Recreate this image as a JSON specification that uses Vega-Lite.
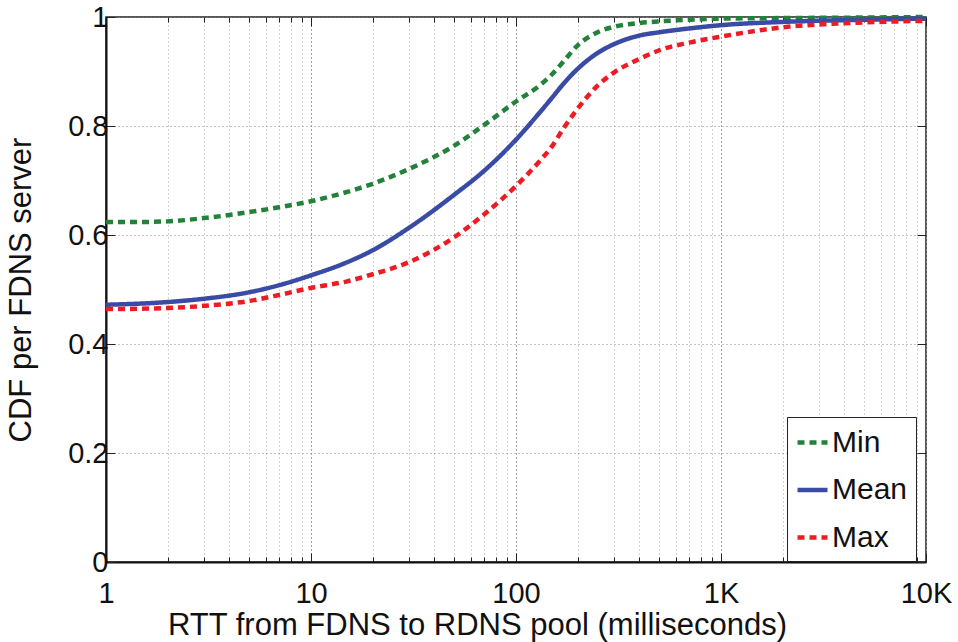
{
  "$schema": "https://vega.github.io/schema/vega-lite/v6.json",
  "width": 820,
  "height": 545,
  "autosize": {"type": "none"},
  "padding": {"left": 106, "top": 17, "right": 32, "bottom": 80},
  "background": "white",
  "config": {
    "font": "Liberation Sans",
    "view": {"stroke": "#222", "strokeWidth": 1.5}
  },
  "data": {
    "values": [
      {"series": "Min", "rtt": 1, "cdf": 0.624},
      {"series": "Min", "rtt": 1.5, "cdf": 0.624},
      {"series": "Min", "rtt": 2, "cdf": 0.625},
      {"series": "Min", "rtt": 3, "cdf": 0.631},
      {"series": "Min", "rtt": 5, "cdf": 0.642},
      {"series": "Min", "rtt": 7, "cdf": 0.651},
      {"series": "Min", "rtt": 10, "cdf": 0.662},
      {"series": "Min", "rtt": 15, "cdf": 0.679},
      {"series": "Min", "rtt": 20, "cdf": 0.694},
      {"series": "Min", "rtt": 30, "cdf": 0.721},
      {"series": "Min", "rtt": 50, "cdf": 0.764},
      {"series": "Min", "rtt": 70, "cdf": 0.802},
      {"series": "Min", "rtt": 100, "cdf": 0.845},
      {"series": "Min", "rtt": 130, "cdf": 0.874},
      {"series": "Min", "rtt": 150, "cdf": 0.895},
      {"series": "Min", "rtt": 170, "cdf": 0.918},
      {"series": "Min", "rtt": 200, "cdf": 0.948},
      {"series": "Min", "rtt": 250, "cdf": 0.972},
      {"series": "Min", "rtt": 300, "cdf": 0.982},
      {"series": "Min", "rtt": 400, "cdf": 0.989},
      {"series": "Min", "rtt": 500, "cdf": 0.992},
      {"series": "Min", "rtt": 700, "cdf": 0.995},
      {"series": "Min", "rtt": 1000, "cdf": 0.997},
      {"series": "Min", "rtt": 2000, "cdf": 0.998},
      {"series": "Min", "rtt": 5000, "cdf": 0.999},
      {"series": "Min", "rtt": 10000, "cdf": 1.0},
      {"series": "Mean", "rtt": 1, "cdf": 0.472},
      {"series": "Mean", "rtt": 2, "cdf": 0.477},
      {"series": "Mean", "rtt": 3, "cdf": 0.483},
      {"series": "Mean", "rtt": 5, "cdf": 0.495},
      {"series": "Mean", "rtt": 7, "cdf": 0.508},
      {"series": "Mean", "rtt": 10, "cdf": 0.526},
      {"series": "Mean", "rtt": 15, "cdf": 0.550},
      {"series": "Mean", "rtt": 20, "cdf": 0.572},
      {"series": "Mean", "rtt": 30, "cdf": 0.613},
      {"series": "Mean", "rtt": 50, "cdf": 0.674},
      {"series": "Mean", "rtt": 70, "cdf": 0.718},
      {"series": "Mean", "rtt": 100, "cdf": 0.775},
      {"series": "Mean", "rtt": 130, "cdf": 0.824},
      {"series": "Mean", "rtt": 150, "cdf": 0.852},
      {"series": "Mean", "rtt": 170, "cdf": 0.877},
      {"series": "Mean", "rtt": 200, "cdf": 0.905},
      {"series": "Mean", "rtt": 250, "cdf": 0.934},
      {"series": "Mean", "rtt": 300, "cdf": 0.950},
      {"series": "Mean", "rtt": 400, "cdf": 0.966},
      {"series": "Mean", "rtt": 500, "cdf": 0.972},
      {"series": "Mean", "rtt": 700, "cdf": 0.979},
      {"series": "Mean", "rtt": 1000, "cdf": 0.985},
      {"series": "Mean", "rtt": 2000, "cdf": 0.991},
      {"series": "Mean", "rtt": 5000, "cdf": 0.995},
      {"series": "Mean", "rtt": 10000, "cdf": 0.997},
      {"series": "Max", "rtt": 1, "cdf": 0.464},
      {"series": "Max", "rtt": 2, "cdf": 0.466},
      {"series": "Max", "rtt": 3, "cdf": 0.470},
      {"series": "Max", "rtt": 5, "cdf": 0.479},
      {"series": "Max", "rtt": 7, "cdf": 0.490},
      {"series": "Max", "rtt": 10, "cdf": 0.503},
      {"series": "Max", "rtt": 15, "cdf": 0.515},
      {"series": "Max", "rtt": 20, "cdf": 0.528},
      {"series": "Max", "rtt": 30, "cdf": 0.550},
      {"series": "Max", "rtt": 50, "cdf": 0.596},
      {"series": "Max", "rtt": 70, "cdf": 0.638},
      {"series": "Max", "rtt": 100, "cdf": 0.690},
      {"series": "Max", "rtt": 130, "cdf": 0.735},
      {"series": "Max", "rtt": 150, "cdf": 0.763},
      {"series": "Max", "rtt": 170, "cdf": 0.795},
      {"series": "Max", "rtt": 200, "cdf": 0.832},
      {"series": "Max", "rtt": 250, "cdf": 0.874},
      {"series": "Max", "rtt": 300, "cdf": 0.898},
      {"series": "Max", "rtt": 400, "cdf": 0.923},
      {"series": "Max", "rtt": 500, "cdf": 0.939},
      {"series": "Max", "rtt": 700, "cdf": 0.953},
      {"series": "Max", "rtt": 1000, "cdf": 0.964},
      {"series": "Max", "rtt": 2000, "cdf": 0.981},
      {"series": "Max", "rtt": 5000, "cdf": 0.990},
      {"series": "Max", "rtt": 10000, "cdf": 0.993}
    ]
  },
  "layer": [
    {
      "mark": {"type": "line", "interpolate": "monotone", "strokeWidth": 4.5},
      "encoding": {
        "x": {
          "field": "rtt",
          "type": "quantitative",
          "scale": {"type": "log", "domain": [1, 10000], "nice": false},
          "axis": {
            "orient": "bottom",
            "title": "RTT from FDNS to RDNS pool (milliseconds)",
            "values": [1, 2, 3, 4, 5, 6, 7, 8, 9, 10, 20, 30, 40, 50, 60, 70, 80, 90, 100, 200, 300, 400, 500, 600, 700, 800, 900, 1000, 2000, 3000, 4000, 5000, 6000, 7000, 8000, 9000, 10000],
            "labelExpr": "datum.value == 1 ? '1' : datum.value == 10 ? '10' : datum.value == 100 ? '100' : datum.value == 1000 ? '1K' : datum.value == 10000 ? '10K' : ''",
            "labelFlush": false,
            "labelOverlap": false,
            "labelFontSize": 29,
            "labelColor": "#111",
            "labelPadding": 26,
            "tickSize": {"condition": {"test": "datum.value == 1 || datum.value == 10 || datum.value == 100 || datum.value == 1000 || datum.value == 10000", "value": -9}, "value": -5},
            "tickColor": "#222",
            "tickWidth": 1,
            "domainColor": "#111",
            "domainWidth": 2,
            "grid": true,
            "gridDash": [1, 3],
            "gridWidth": 1,
            "gridColor": {"condition": {"test": "datum.value == 10 || datum.value == 100 || datum.value == 1000", "value": "#444"}, "value": "#aaa"},
            "titleFontSize": 31,
            "titleFontWeight": "normal",
            "titleColor": "#111",
            "titlePadding": -2,
            "titleX": 371
          }
        },
        "y": {
          "field": "cdf",
          "type": "quantitative",
          "scale": {"domain": [0, 1], "nice": false},
          "axis": {
            "orient": "left",
            "title": "CDF per FDNS server",
            "values": [0, 0.2, 0.4, 0.6, 0.8, 1],
            "format": "~g",
            "labelFlush": false,
            "labelOverlap": false,
            "labelFontSize": 29,
            "labelColor": "#111",
            "labelPadding": 7,
            "tickSize": -9,
            "tickColor": "#222",
            "domainColor": "#111",
            "domainWidth": 2,
            "grid": true,
            "gridDash": [1, 3],
            "gridColor": "#888",
            "titleFontSize": 31,
            "titleFontWeight": "normal",
            "titleColor": "#111",
            "titlePadding": 30
          }
        },
        "color": {
          "field": "series",
          "type": "nominal",
          "sort": ["Min", "Mean", "Max"],
          "scale": {"domain": ["Min", "Mean", "Max"], "range": ["#23813a", "#3a4ba6", "#ed1c24"]},
          "legend": {
            "orient": "none",
            "legendX": 681,
            "legendY": 400,
            "title": null,
            "labelFontSize": 30,
            "labelColor": "#111",
            "labelOffset": 2,
            "labelExpr": "datum.label == 'Mean' ? 'Mean\u00a0\u00a0\u00a0\u00a0\u00a0' : datum.label",
            "symbolType": "stroke",
            "symbolSize": 900,
            "symbolStrokeWidth": 4.5,
            "strokeColor": "#222",
            "fillColor": "white",
            "padding": 8,
            "rowPadding": 14.5
          }
        },
        "strokeDash": {
          "field": "series",
          "type": "nominal",
          "sort": ["Min", "Mean", "Max"],
          "scale": {"domain": ["Min", "Mean", "Max"], "range": [[7, 5], [1, 0], [7, 5]]},
          "legend": {
            "orient": "none",
            "legendX": 681,
            "legendY": 400,
            "title": null,
            "labelFontSize": 30,
            "labelColor": "#111",
            "labelOffset": 2,
            "labelExpr": "datum.label == 'Mean' ? 'Mean\u00a0\u00a0\u00a0\u00a0\u00a0' : datum.label",
            "symbolType": "stroke",
            "symbolSize": 900,
            "symbolStrokeWidth": 4.5,
            "strokeColor": "#222",
            "fillColor": "white",
            "padding": 8,
            "rowPadding": 14.5
          }
        }
      }
    },
    {
      "mark": {"type": "point", "opacity": 0},
      "encoding": {
        "x": {
          "field": "rtt",
          "type": "quantitative",
          "axis": {
            "orient": "top",
            "title": null,
            "labels": false,
            "grid": false,
            "domain": false,
            "values": [1, 2, 3, 4, 5, 6, 7, 8, 9, 10, 20, 30, 40, 50, 60, 70, 80, 90, 100, 200, 300, 400, 500, 600, 700, 800, 900, 1000, 2000, 3000, 4000, 5000, 6000, 7000, 8000, 9000, 10000],
            "tickSize": {"condition": {"test": "datum.value == 1 || datum.value == 10 || datum.value == 100 || datum.value == 1000 || datum.value == 10000", "value": -9}, "value": -5},
            "tickColor": "#222"
          }
        },
        "y": {
          "field": "cdf",
          "type": "quantitative",
          "axis": {
            "orient": "right",
            "title": null,
            "labels": false,
            "grid": false,
            "domain": false,
            "values": [0, 0.2, 0.4, 0.6, 0.8, 1],
            "tickSize": -9,
            "tickColor": "#222"
          }
        }
      }
    }
  ],
  "resolve": {"axis": {"x": "independent", "y": "independent"}}
}
